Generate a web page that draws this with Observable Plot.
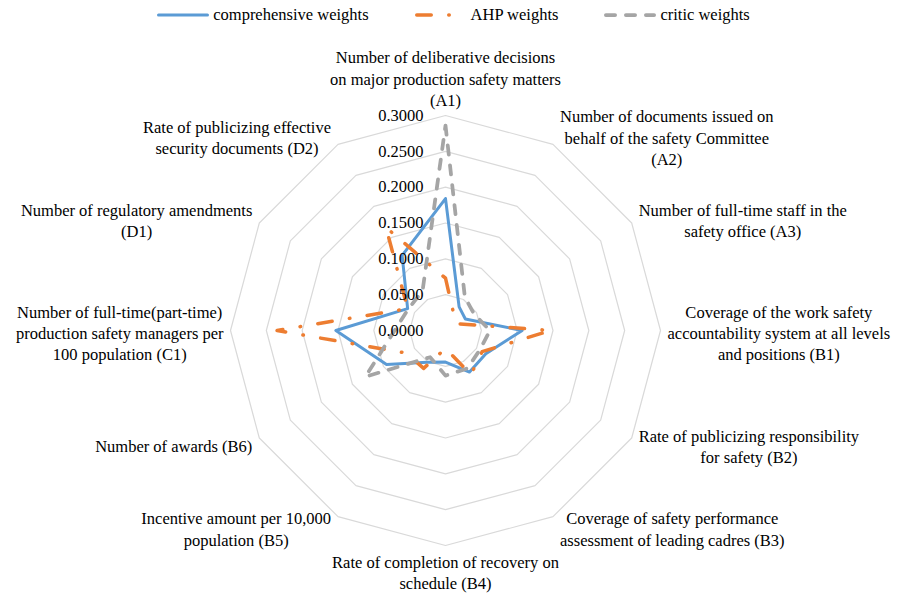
<!DOCTYPE html>
<html>
<head>
<meta charset="utf-8">
<script src="https://cdn.jsdelivr.net/npm/d3@7"></script>
<script src="https://cdn.jsdelivr.net/npm/@observablehq/plot@0.6"></script>
<style>
  html, body { margin: 0; padding: 0; background: #fff; }
  body { width: 907px; font-family: "Liberation Serif", Tinos, "Times New Roman", Times, "DejaVu Serif", serif; color: #000; }
  #legend { height: 30px; display: flex; justify-content: center; align-items: center; gap: 46px; font-size: 16.5px; }
  #legend .item { display: flex; align-items: center; gap: 4px; white-space: nowrap; }
  #legend svg { display: block; }
</style>
</head>
<body>
<div id="legend"></div>
<div id="chart"></div>
<script>
// ---------------- data ----------------
const categories = [
  "Number of deliberative decisions\non major production safety matters\n(A1)",
  "Number of documents issued on\nbehalf of the safety Committee\n(A2)",
  "Number of full-time staff in the\nsafety office (A3)",
  "Coverage of the work safety\naccountability system at all levels\nand positions (B1)",
  "Rate of publicizing responsibility\nfor safety (B2)",
  "Coverage of safety performance\nassessment of leading cadres (B3)",
  "Rate of completion of recovery on\nschedule (B4)",
  "Incentive amount per 10,000\npopulation (B5)",
  "Number of awards (B6)",
  "Number of full-time(part-time)\nproduction safety managers per\n100 population (C1)",
  "Number of regulatory amendments\n(D1)",
  "Rate of publicizing effective\nsecurity documents (D2)"
];
const comprehensive = [0.184, 0.038, 0.032, 0.107, 0.065, 0.067, 0.044, 0.051, 0.095, 0.153, 0.061, 0.121];
const ahp           = [0.073, 0.024, 0.019, 0.147, 0.059, 0.071, 0.025, 0.061, 0.063, 0.235, 0.061, 0.166];
const critic        = [0.286, 0.054, 0.046, 0.062, 0.055, 0.061, 0.063, 0.043, 0.129, 0.071, 0.060, 0.064];
const ticks = [0, 0.05, 0.10, 0.15, 0.20, 0.25, 0.30];
const seriesNames = ["comprehensive weights", "AHP weights", "critic weights"];

// ---------------- styles ----------------
const seriesValues = [comprehensive, ahp, critic];
const seriesStyles = [
  {stroke: "#5B9BD5", strokeWidth: 3, strokeDasharray: null, strokeLinecap: "round"},
  {stroke: "#ED7D31", strokeWidth: 3.5, strokeDasharray: "14.5,17.5,0.5,17.5", strokeLinecap: "round"},
  {stroke: "#A5A5A5", strokeWidth: 3.75, strokeDasharray: "9.25,10.75", strokeLinecap: "round"}
];
const W = 907, H = 564;
const cx = 445, cy = 300, R = 215;
const rMax = d3.max(ticks);
const k = R / rMax;               // px per unit
const n = categories.length;
const labelSize = 16.5, lineHeightEm = 1.28, tickSize = 16.5;
const fontStack = '"Liberation Serif", Tinos, "Times New Roman", Times, "DejaVu Serif", serif';

// ---------------- legend ----------------
const legend = document.getElementById("legend");
seriesNames.forEach((name, j) => {
  const st = seriesStyles[j];
  const item = document.createElement("span");
  item.className = "item";
  const svgNS = "http://www.w3.org/2000/svg";
  const sw = document.createElementNS(svgNS, "svg");
  sw.setAttribute("width", 52); sw.setAttribute("height", 8);
  const ln = document.createElementNS(svgNS, "line");
  const pad = st.strokeLinecap === "round" ? st.strokeWidth / 2 : 0;
  ln.setAttribute("x1", pad); ln.setAttribute("x2", 52 - pad);
  ln.setAttribute("y1", 4); ln.setAttribute("y2", 4);
  ln.setAttribute("stroke", st.stroke);
  ln.setAttribute("stroke-width", st.strokeWidth);
  ln.setAttribute("stroke-linecap", st.strokeLinecap);
  if (st.strokeDasharray) ln.setAttribute("stroke-dasharray", st.strokeDasharray);
  sw.appendChild(ln);
  item.appendChild(sw);
  item.appendChild(document.createTextNode(name));
  legend.appendChild(item);
});

// ---------------- geometry helpers ----------------
const angle = i => i * 2 * Math.PI / n;
const rings = [];
ticks.filter(t => t > 0).forEach(t => {
  for (let i = 0; i <= n; i++) rings.push({level: t, x: t * Math.sin(angle(i % n)), y: t * Math.cos(angle(i % n))});
});
const seriesPoints = seriesValues.map((vals, j) => {
  const pts = [];
  for (let i = 0; i <= n; i++) {
    const v = vals[i % n];
    pts.push({series: seriesNames[j], x: v * Math.sin(angle(i % n)), y: v * Math.cos(angle(i % n))});
  }
  return pts;
});

// category label placement (computed from angle and measured text width)
const ctx = document.createElement("canvas").getContext("2d");
ctx.font = `${labelSize}px ${fontStack}`;
const lineH = labelSize * lineHeightEm;
const gapSide = 7, gapTop = 6, gapBottom = 5;
const labelData = categories.map((c, i) => {
  const s = Math.sin(angle(i)), co = Math.cos(angle(i));
  const lines = c.split("\n");
  const w = d3.max(lines, l => ctx.measureText(l).width);
  const h = lines.length * lineH;
  const px = rMax * s * k, py = -rMax * co * k;   // vertex offset in px (y down)
  let lx, ly;
  if (Math.abs(s) < 1e-6) {
    lx = px;
    ly = co > 0 ? py - gapTop - h / 2 : py + gapBottom + h / 2;
  } else {
    lx = px + Math.sign(s) * (gapSide + w / 2);
    ly = py + (-11 * co + 2);
  }
  return {text: c, x: lx / k, y: -ly / k};
});

// ---------------- plot ----------------
const marks = [
  Plot.line(rings, {x: "x", y: "y", z: "level", stroke: "#D9D9D9", strokeWidth: 1.2}),
  ...seriesPoints.map((pts, j) => Plot.line(pts, {
    x: "x", y: "y",
    stroke: seriesStyles[j].stroke,
    strokeWidth: seriesStyles[j].strokeWidth,
    strokeDasharray: seriesStyles[j].strokeDasharray,
    strokeLinecap: seriesStyles[j].strokeLinecap,
    strokeLinejoin: "round",
    curve: "linear"
  })),
  Plot.text(ticks, {x: () => 0, y: d => d, text: d => d.toFixed(4), textAnchor: "end", dx: -22,
    fontSize: tickSize, fill: "#000"}),
  Plot.text(labelData, {x: "x", y: "y", text: "text", textAnchor: "middle", lineAnchor: "middle",
    lineHeight: lineHeightEm, fontSize: labelSize, fill: "#000"})
];

const chart = Plot.plot({
  width: W, height: H,
  marginTop: 0, marginRight: 0, marginBottom: 0, marginLeft: 0,
  x: {domain: [-cx / k, (W - cx) / k], axis: null},
  y: {domain: [-(H - cy) / k, cy / k], axis: null},
  style: {fontFamily: fontStack, background: "#fff", color: "#000"},
  marks
});
document.getElementById("chart").appendChild(chart);
</script>
</body>
</html>
